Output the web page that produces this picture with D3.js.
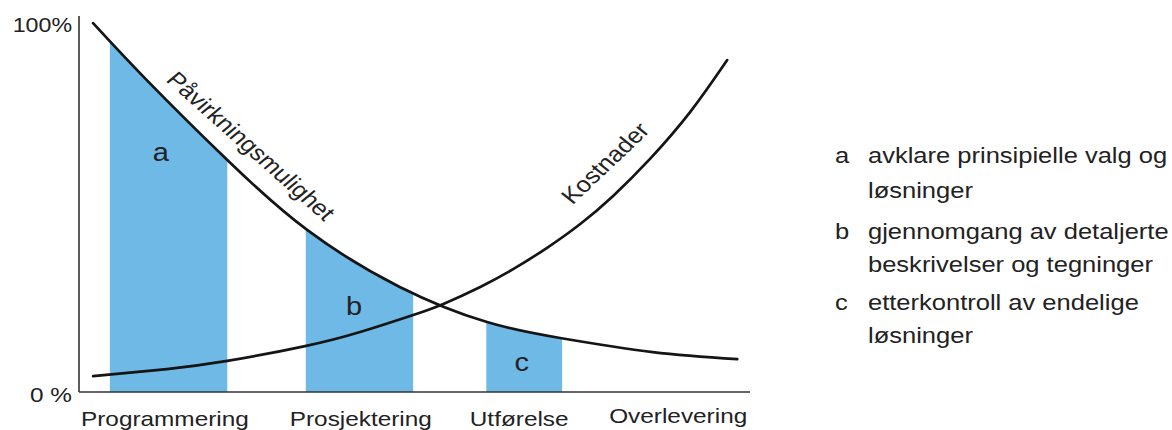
<!DOCTYPE html>
<html>
<head>
<meta charset="utf-8">
<script src="https://cdn.jsdelivr.net/npm/d3@7"></script>
<style>
  html, body { margin: 0; padding: 0; background: #fff; }
  svg { display: block; font-family: "Liberation Sans", Arial, sans-serif; }
</style>
</head>
<body>
<svg id="chart" width="1172" height="430"></svg>
<script>
// ── Data (x: share of project timeline 0–100, y: percent 0–100) ─────────────
const influenceX = [2.1, 10.1, 22.1, 34.0, 47.8, 60.8, 71.7, 85.5, 98.1];
const influenceY = [99.7, 84.3, 62.7, 43.8, 28.4, 18.9, 14.6, 10.8, 8.9];

const costX = [2.1, 13.1, 22.1, 33.7, 41.9, 49.8, 54.3, 59.8, 64.7, 69.7, 74.7, 79.6, 85.1, 91.1, 96.6];
const costY = [4.3, 6.2, 8.4, 12.4, 16.2, 20.8, 23.8, 28.4, 33.2, 38.9, 45.4, 53.0, 63.0, 75.7, 89.7];

const phases   = ['Programmering', 'Prosjektering', 'Utførelse', 'Overlevering'];
const phaseAt  = [12.8, 42.0, 65.6, 89.3];

const bandKeys   = ['a', 'b', 'c'];
const bandStart  = [4.6, 33.8, 60.7];
const bandEnd    = [22.1, 49.8, 72.0];
const bandLabelX = [12.2, 41.0, 66.0];
const bandLabelY = [64.9, 23.2, 8.1];

const legendKeys  = ['a', 'b', 'c'];
const legendLines = [
  ['avklare prinsipielle valg og', 'løsninger'],
  ['gjennomgang av detaljerte', 'beskrivelser og tegninger'],
  ['etterkontroll av endelige', 'løsninger'],
];

// ── Layout ──────────────────────────────────────────────────────────────────
const svg = d3.select('#chart');
const x = d3.scaleLinear().domain([0, 100]).range([79, 750]);
const y = d3.scaleLinear().domain([0, 100]).range([392, 22]);

const TEXT = '#222';
const BLUE = '#6fb9e6';
const SX = 1.16;   // the source text is a bit wide

function label(parent, px, py, str, size, anchor) {
  return parent.append('text')
    .attr('transform', `translate(${px},${py}) scale(${SX},1)`)
    .attr('text-anchor', anchor || 'start')
    .attr('font-size', size)
    .attr('fill', TEXT)
    .text(str);
}

const influence = influenceX.map((v, i) => [v, influenceY[i]]);
const cost = costX.map((v, i) => [v, costY[i]]);
const curve = d3.curveNatural;

// ── Blue bands under the influence curve ────────────────────────────────────
const defs = svg.append('defs');
bandKeys.forEach((k, i) => {
  defs.append('clipPath').attr('id', `band-${k}`)
    .append('rect')
      .attr('x', x(bandStart[i]))
      .attr('y', 0)
      .attr('width', x(bandEnd[i]) - x(bandStart[i]))
      .attr('height', y(0));
});

const area = d3.area()
  .x(d => x(d[0])).y0(y(0)).y1(d => y(d[1]))
  .curve(curve);

svg.append('g').selectAll('path')
  .data(bandKeys)
  .join('path')
    .attr('d', area(influence))
    .attr('clip-path', k => `url(#band-${k})`)
    .attr('fill', BLUE);

const bandG = svg.append('g');
bandKeys.forEach((k, i) => {
  label(bandG, x(bandLabelX[i]), y(bandLabelY[i]), k, 25, 'middle')
    .attr('dy', '0.35em');
});

// ── Axes (plain lines, no ticks) ────────────────────────────────────────────
svg.append('line')
  .attr('x1', x(0)).attr('x2', x(0))
  .attr('y1', 16).attr('y2', y(0))
  .attr('stroke', '#333').attr('stroke-width', 1.6);
svg.append('line')
  .attr('x1', x(0)).attr('x2', x(100))
  .attr('y1', y(0)).attr('y2', y(0))
  .attr('stroke', '#333').attr('stroke-width', 1.6);

label(svg, 72, 32, '100%', 20, 'end');
label(svg, 72, 402, '0 %', 21, 'end');

const phaseG = svg.append('g');
phases.forEach((p, i) => {
  label(phaseG, x(phaseAt[i]), i === 3 ? 423 : 426, p, 21, 'middle');
});

// ── Curves ──────────────────────────────────────────────────────────────────
const line = d3.line().x(d => x(d[0])).y(d => y(d[1])).curve(curve);

svg.append('g')
  .attr('fill', 'none')
  .attr('stroke', '#151515')
  .attr('stroke-width', 2.7)
  .attr('stroke-linecap', 'round')
  .selectAll('path')
  .data([influence, cost])
  .join('path')
    .attr('d', line);

svg.append('text')
  .attr('transform', `translate(251,146) scale(${SX},1) rotate(45.8)`)
  .attr('text-anchor', 'middle')
  .attr('dy', '0.35em')
  .attr('font-size', 22)
  .attr('fill', TEXT)
  .text('Påvirkningsmulighet');

svg.append('text')
  .attr('transform', `translate(605,163) scale(${SX},1) rotate(-47.7)`)
  .attr('text-anchor', 'middle')
  .attr('dy', '0.35em')
  .attr('font-size', 22)
  .attr('fill', TEXT)
  .text('Kostnader');

// ── Legend ──────────────────────────────────────────────────────────────────
const baselines = [163, 198, 239, 272, 310, 343];
const legend = svg.append('g');
legendKeys.forEach((k, i) => {
  label(legend, 835, baselines[i * 2], k, 22);
  legendLines[i].forEach((t, j) => {
    label(legend, 868, baselines[i * 2 + j], t, 22);
  });
});
</script>
</body>
</html>
